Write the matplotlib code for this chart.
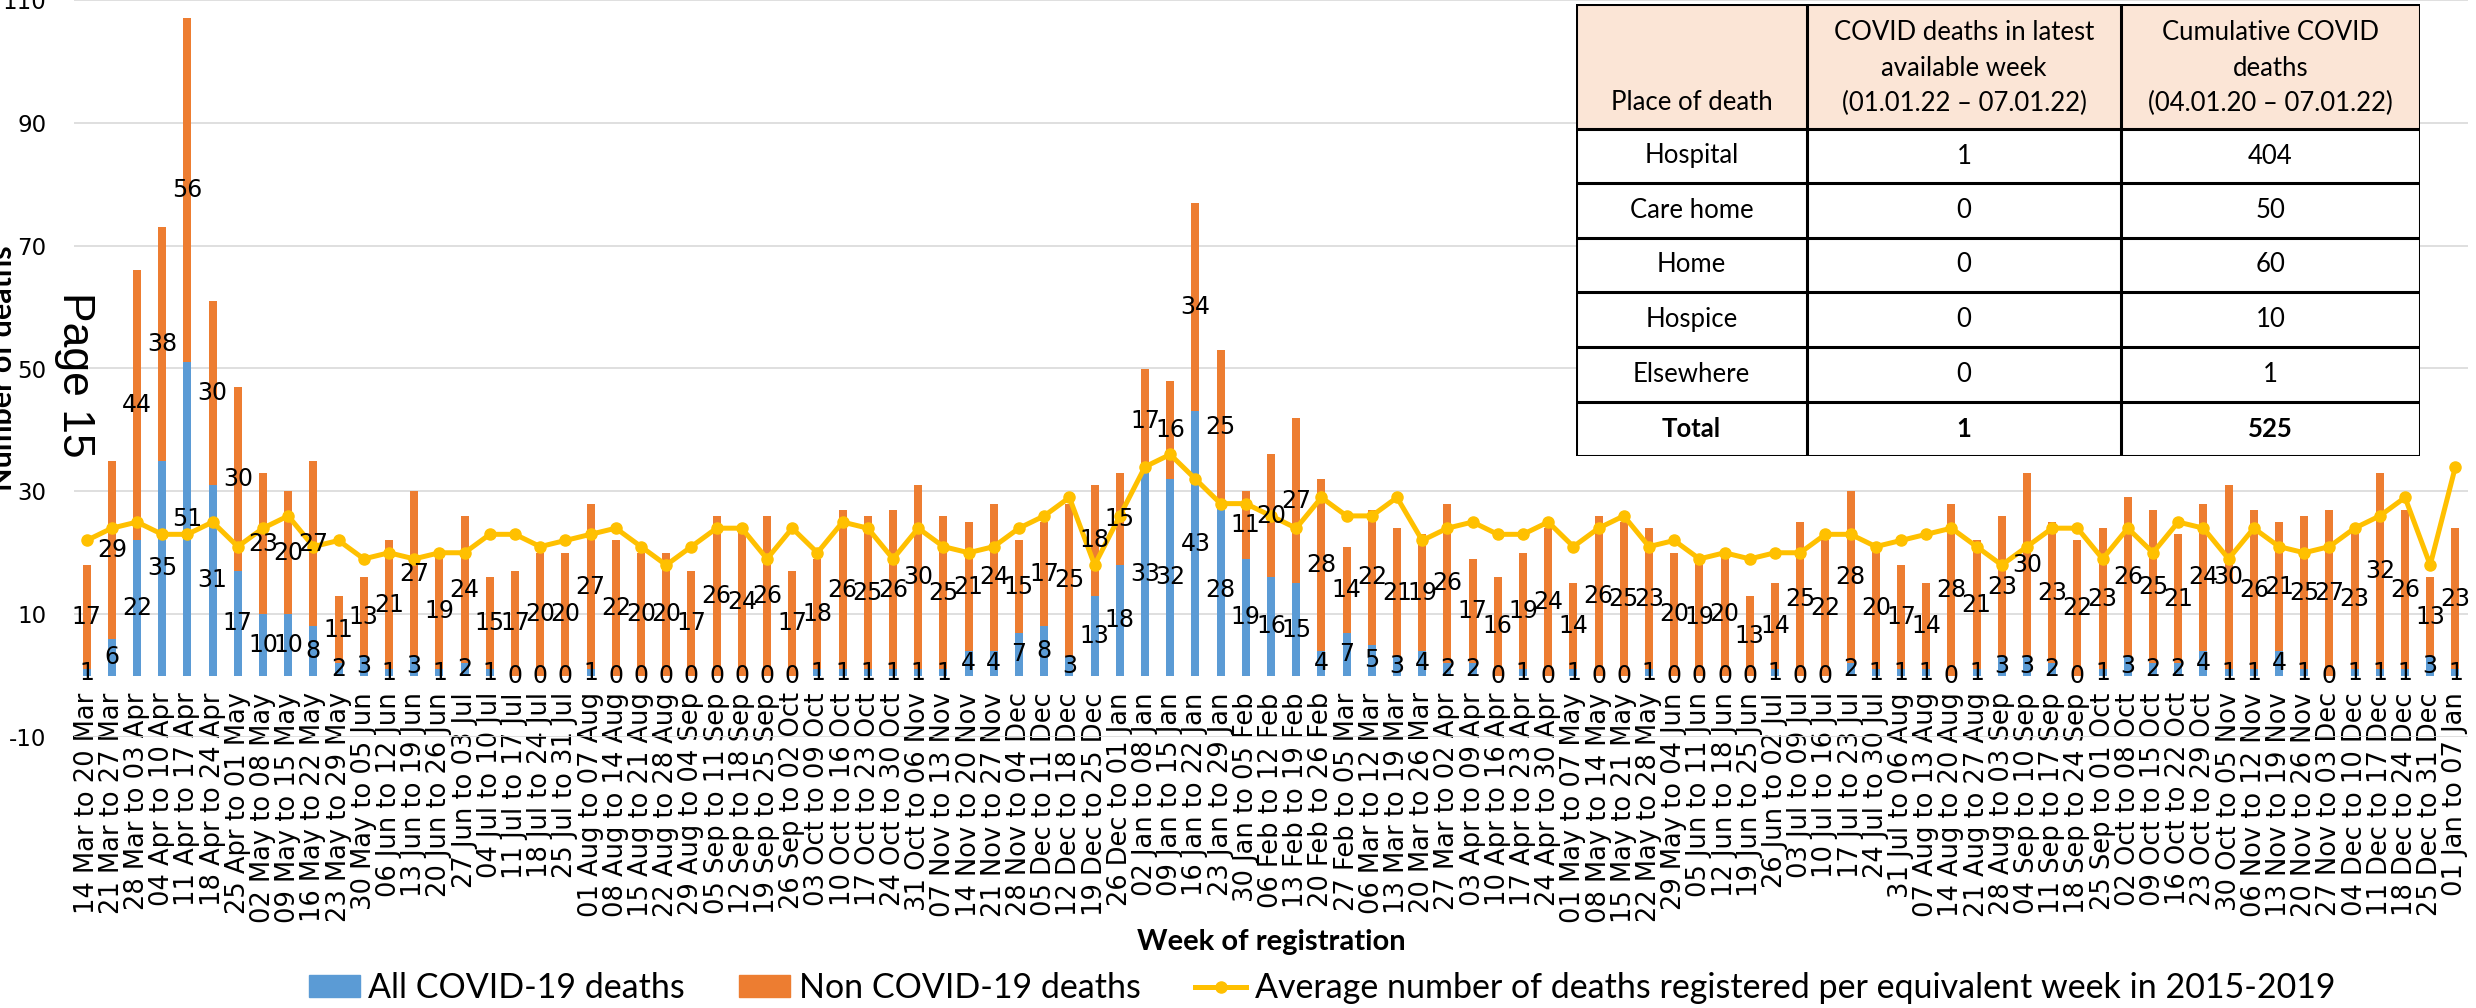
import numpy as np
import matplotlib
matplotlib.use("Agg")
import matplotlib.pyplot as plt
from matplotlib.patches import Patch, Rectangle
from matplotlib.lines import Line2D

plt.rcParams['axes.unicode_minus'] = False
NARROW = ['Lato', 'DejaVu Sans']

weeks = [
    "14 Mar to 20 Mar", "21 Mar to 27 Mar", "28 Mar to 03 Apr", "04 Apr to 10 Apr",
    "11 Apr to 17 Apr", "18 Apr to 24 Apr", "25 Apr to 01 May", "02 May to 08 May",
    "09 May to 15 May", "16 May to 22 May", "23 May to 29 May", "30 May to 05 Jun",
    "06 Jun to 12 Jun", "13 Jun to 19 Jun", "20 Jun to 26 Jun", "27 Jun to 03 Jul",
    "04 Jul to 10 Jul", "11 Jul to 17 Jul", "18 Jul to 24 Jul", "25 Jul to 31 Jul",
    "01 Aug to 07 Aug", "08 Aug to 14 Aug", "15 Aug to 21 Aug", "22 Aug to 28 Aug",
    "29 Aug to 04 Sep", "05 Sep to 11 Sep", "12 Sep to 18 Sep", "19 Sep to 25 Sep",
    "26 Sep to 02 Oct", "03 Oct to 09 Oct", "10 Oct to 16 Oct", "17 Oct to 23 Oct",
    "24 Oct to 30 Oct", "31 Oct to 06 Nov", "07 Nov to 13 Nov", "14 Nov to 20 Nov",
    "21 Nov to 27 Nov", "28 Nov to 04 Dec", "05 Dec to 11 Dec", "12 Dec to 18 Dec",
    "19 Dec to 25 Dec", "26 Dec to 01 Jan", "02 Jan to 08 Jan", "09 Jan to 15 Jan",
    "16 Jan to 22 Jan", "23 Jan to 29 Jan", "30 Jan to 05 Feb", "06 Feb to 12 Feb",
    "13 Feb to 19 Feb", "20 Feb to 26 Feb", "27 Feb to 05 Mar", "06 Mar to 12 Mar",
    "13 Mar to 19 Mar", "20 Mar to 26 Mar", "27 Mar to 02 Apr", "03 Apr to 09 Apr",
    "10 Apr to 16 Apr", "17 Apr to 23 Apr", "24 Apr to 30 Apr", "01 May to 07 May",
    "08 May to 14 May", "15 May to 21 May", "22 May to 28 May", "29 May to 04 Jun",
    "05 Jun to 11 Jun", "12 Jun to 18 Jun", "19 Jun to 25 Jun", "26 Jun to 02 Jul",
    "03 Jul to 09 Jul", "10 Jul to 16 Jul", "17 Jul to 23 Jul", "24 Jul to 30 Jul",
    "31 Jul to 06 Aug", "07 Aug to 13 Aug", "14 Aug to 20 Aug", "21 Aug to 27 Aug",
    "28 Aug to 03 Sep", "04 Sep to 10 Sep", "11 Sep to 17 Sep", "18 Sep to 24 Sep",
    "25 Sep to 01 Oct", "02 Oct to 08 Oct", "09 Oct to 15 Oct", "16 Oct to 22 Oct",
    "23 Oct to 29 Oct", "30 Oct to 05 Nov", "06 Nov to 12 Nov", "13 Nov to 19 Nov",
    "20 Nov to 26 Nov", "27 Nov to 03 Dec", "04 Dec to 10 Dec", "11 Dec to 17 Dec",
    "18 Dec to 24 Dec", "25 Dec to 31 Dec", "01 Jan to 07 Jan",
]

covid_deaths = [1, 6, 22, 35, 51, 31, 17, 10, 10, 8,
                2, 3, 1, 3, 1, 2, 1, 0, 0, 0,
                1, 0, 0, 0, 0, 0, 0, 0, 0, 1,
                1, 1, 1, 1, 1, 4, 4, 7, 8, 3,
                13, 18, 33, 32, 43, 28, 19, 16, 15, 4,
                7, 5, 3, 4, 2, 2, 0, 1, 0, 1,
                0, 0, 1, 0, 0, 0, 0, 1, 0, 0,
                2, 1, 1, 1, 0, 1, 3, 3, 2, 0,
                1, 3, 2, 2, 4, 1, 1, 4, 1, 0,
                1, 1, 1, 3, 1]

non_covid_deaths = [17, 29, 44, 38, 56, 30, 30, 23, 20, 27,
                    11, 13, 21, 27, 19, 24, 15, 17, 20, 20,
                    27, 22, 20, 20, 17, 26, 24, 26, 17, 18,
                    26, 25, 26, 30, 25, 21, 24, 15, 17, 25,
                    18, 15, 17, 16, 34, 25, 11, 20, 27, 28,
                    14, 22, 21, 19, 26, 17, 16, 19, 24, 14,
                    26, 25, 23, 20, 19, 20, 13, 14, 25, 22,
                    28, 20, 17, 14, 28, 21, 23, 30, 23, 22,
                    23, 26, 25, 21, 24, 30, 26, 21, 25, 27,
                    23, 32, 26, 13, 23]

avg_2015_2019 = [22, 24, 25, 23, 23, 25, 21, 24, 26, 21,
                 22, 19, 20, 19, 20, 20, 23, 23, 21, 22,
                 23, 24, 21, 18, 21, 24, 24, 19, 24, 20,
                 25, 24, 19, 24, 21, 20, 21, 24, 26, 29,
                 18, 26, 34, 36, 32, 28, 28, 26, 24, 29,
                 26, 26, 29, 22, 24, 25, 23, 23, 25, 21,
                 24, 26, 21, 22, 19, 20, 19, 20, 20, 23,
                 23, 21, 22, 23, 24, 21, 18, 21, 24, 24,
                 19, 24, 20, 25, 24, 19, 24, 21, 20, 21,
                 24, 26, 29, 18, 34]

# table in the top right corner
places = ["Hospital", "Care home", "Home", "Hospice", "Elsewhere", "Total"]
latest_week = [1, 0, 0, 0, 0, 1]
cumulative = [404, 50, 60, 10, 1, 525]

BLUE = '#5B9BD5'
ORANGE = '#ED7D31'
YELLOW = '#FFC000'

W, H = 2476, 1008
fig = plt.figure(figsize=(W / 100, H / 100), dpi=100)
ax = fig.add_axes([74 / W, (H - 737) / H, (2468 - 74) / W, 737 / H])

x = np.arange(len(weeks))
b1 = ax.bar(x, covid_deaths, width=0.32, color=BLUE, zorder=2)
b2 = ax.bar(x, non_covid_deaths, width=0.32, bottom=covid_deaths, color=ORANGE, zorder=2)
ax.plot(x, avg_2015_2019, color=YELLOW, lw=3.6, marker='o', ms=8, zorder=3)

for cont in (b1, b2):
    labs = ax.bar_label(cont, label_type='center', fontsize=17, color='black')
    for t in labs:
        t.set_zorder(5)

ax.set_xlim(-0.5, len(weeks) - 0.5)
ax.set_ylim(-10, 110)
ax.set_yticks(np.arange(-10, 111, 20))
ax.yaxis.grid(True, color='#D9D9D9', lw=1.2, zorder=0)
ax.set_axisbelow(True)
for s in ax.spines.values():
    s.set_color('none')
ax.spines['bottom'].set_position(('data', 0))
ax.set_xticks(x)
ax.set_xticklabels(weeks, rotation=90, fontsize=18.5)
ax.tick_params(axis='x', length=0, pad=12)
ax.tick_params(axis='y', length=0, pad=20, labelsize=16.5)

fig.text(3.5 / W, 1 - 368 / H, 'Number of deaths', rotation=90, ha='center', va='center',
         fontsize=22, fontweight='bold', family=NARROW)
fig.text(74 / W, 1 - 375 / H, 'Page 15', rotation=-90, ha='center', va='center',
         fontsize=32, family=['Liberation Sans', 'DejaVu Sans'])
fig.text(1271 / W, 1 - 942 / H, 'Week of registration', ha='center', va='center',
         fontsize=21, fontweight='bold', family=NARROW)

handles = [Patch(color=BLUE), Patch(color=ORANGE),
           Line2D([], [], color=YELLOW, lw=3.6, marker='o', ms=8)]
labels = ['All COVID-19 deaths', 'Non COVID-19 deaths',
          'Average number of deaths registered per equivalent week in 2015-2019']
fig.legend(handles, labels, loc='center', bbox_to_anchor=(1322 / W, 20 / H), ncol=3,
           frameon=False, prop={'family': NARROW, 'size': 24.5}, handlelength=1.5,
           handleheight=0.6, handletextpad=0.25, columnspacing=1.6)

# table drawn in pixel coordinates
tl, tt, tr, tb = 1576, 4, 2420, 456
tab = fig.add_axes([tl / W, 1 - tb / H, (tr - tl) / W, (tb - tt) / H])
tab.set_xlim(0, tr - tl)
tab.set_ylim(tb - tt, 0)
tab.axis('off')
cols = [0, 231, 545, tr - tl]
rows = [0, 125, 179, 234, 288, 343, 398, tb - tt]
tab.add_patch(Rectangle((0, 0), cols[-1], rows[-1], facecolor='white', edgecolor='none'))
tab.add_patch(Rectangle((0, 0), cols[-1], rows[1], facecolor='#FBE5D6', edgecolor='none'))
for c in cols:
    tab.plot([c, c], [0, rows[-1]], color='black', lw=2.2, solid_capstyle='projecting')
for r in rows:
    tab.plot([0, cols[-1]], [r, r], color='black', lw=2.2, solid_capstyle='projecting')

tf = {'family': NARROW, 'fontsize': 18.5, 'ha': 'center', 'va': 'center'}
tab.text((cols[0] + cols[1]) / 2, 99, 'Place of death', **tf)
for i, line in enumerate(['COVID deaths in latest', 'available week', '(01.01.22 \u2013 07.01.22)']):
    tab.text((cols[1] + cols[2]) / 2, 29 + 35 * i, line, **tf)
for i, line in enumerate(['Cumulative COVID', 'deaths', '(04.01.20 \u2013 07.01.22)']):
    tab.text((cols[2] + cols[3]) / 2, 29 + 35 * i, line, **tf)
for i, p in enumerate(places):
    yc = (rows[i + 1] + rows[i + 2]) / 2
    wt = 'bold' if p == 'Total' else 'normal'
    tab.text((cols[0] + cols[1]) / 2, yc, p, fontweight=wt, **tf)
    tab.text((cols[1] + cols[2]) / 2, yc, str(latest_week[i]), fontweight=wt, **tf)
    tab.text((cols[2] + cols[3]) / 2, yc, str(cumulative[i]), fontweight=wt, **tf)

fig.savefig('out.png', dpi=100)
